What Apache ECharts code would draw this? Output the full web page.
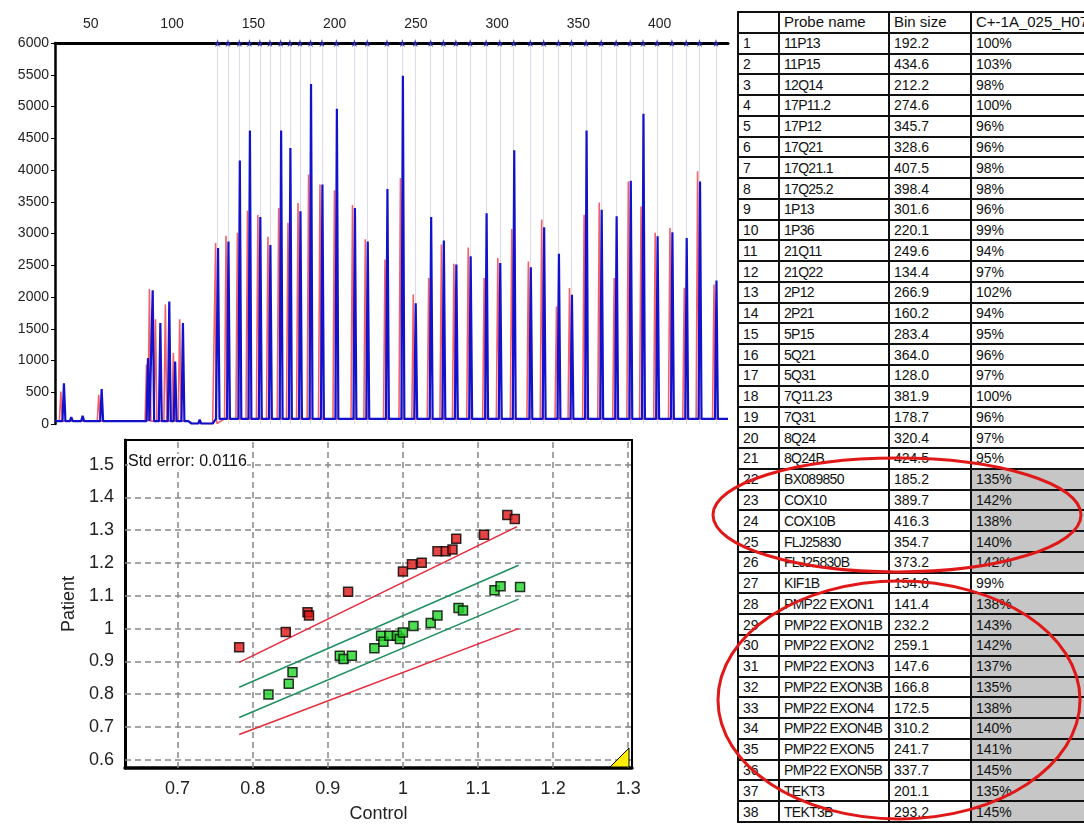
<!DOCTYPE html>
<html>
<head>
<meta charset="utf-8">
<script src="https://cdn.jsdelivr.net/npm/echarts@6/dist/echarts.min.js"></script>
<style>
    html, body { margin: 0; padding: 0; background: #fff; overflow: hidden; }
    #wrap { position: relative; width: 1084px; height: 824px; overflow: hidden; }
    #ct1 { position: absolute; left: 0; top: 0; width: 1084px; height: 824px; z-index: 2; pointer-events: none; }
    #tbl { position: absolute; left: 737px; top: 11px; width: 352px; height: 812px; border-collapse: collapse;
        table-layout: fixed; font-family: "Liberation Sans", Arial, sans-serif; font-size: 14px; color: #111; z-index: 1; }
    #tbl td { border: 2px solid #111; padding: 0 0 0 4px; white-space: nowrap; overflow: hidden; line-height: 16px; }
    #tbl td.nm { letter-spacing: -0.7px; }
    #tbl td.hi { background: #c6c6c6; }
    #tbl tr.hd td { font-size: 15px; }
</style>
</head>
<body>
<div id="wrap">
    <table id="tbl">
        <colgroup><col style="width:41px"><col style="width:110px"><col style="width:82px"><col style="width:119px"></colgroup>
        <tbody id="tbl-body"></tbody>
    </table>
    <div id="ct1"></div>
</div>
<script>
// table columns
var tableHead = ['', 'Probe name', 'Bin size', 'C+-1A_025_H07'];
var probeNames = ['11P13', '11P15', '12Q14', '17P11.2', '17P12', '17Q21', '17Q21.1', '17Q25.2', '1P13', '1P36',
    '21Q11', '21Q22', '2P12', '2P21', '5P15', '5Q21', '5Q31', '7Q11.23', '7Q31', '8Q24', '8Q24B', 'BX089850',
    'COX10', 'COX10B', 'FLJ25830', 'FLJ25830B', 'KIF1B', 'PMP22 EXON1', 'PMP22 EXON1B', 'PMP22 EXON2',
    'PMP22 EXON3', 'PMP22 EXON3B', 'PMP22 EXON4', 'PMP22 EXON4B', 'PMP22 EXON5', 'PMP22 EXON5B', 'TEKT3', 'TEKT3B'];
var binSizes = [192.2, 434.6, 212.2, 274.6, 345.7, 328.6, 407.5, 398.4, 301.6, 220.1, 249.6, 134.4, 266.9, 160.2,
    283.4, 364.0, 128.0, 381.9, 178.7, 320.4, 424.5, 185.2, 389.7, 416.3, 354.7, 373.2, 154.0, 141.4, 232.2, 259.1,
    147.6, 166.8, 172.5, 310.2, 241.7, 337.7, 201.1, 293.2];
var ratios = [100, 103, 98, 100, 96, 96, 98, 98, 96, 99, 94, 97, 102, 94, 95, 96, 97, 100, 96, 97, 95, 135, 142, 138,
    140, 142, 99, 138, 143, 142, 137, 135, 138, 140, 141, 145, 135, 145];

// electropherogram: peak heights per probe, in order of bin size
var peakSizes = binSizes.slice().sort(function (a, b) { return a - b; });
var blueHeights = [2770, 2875, 4150, 4620, 3260, 2820, 4620, 4345, 3350, 5355, 3770, 4965, 3400, 2875, 3700, 5485,
    1900, 3260, 2890, 2510, 2640, 3320, 2535, 4310, 2470, 3100, 2680, 2035, 4620, 3375, 3270, 3830, 4885, 2955,
    3020, 2930, 3820, 2260];
var redHeights = [2850, 2965, 3010, 3360, 3290, 2950, 3400, 3170, 3480, 3930, 3770, 3680, 3450, 2910, 2590, 3875,
    2040, 2300, 2825, 2525, 2780, 2300, 2615, 3070, 2560, 3220, 1850, 2140, 3295, 3490, 2300, 3820, 3425, 3010,
    3085, 2145, 3980, 2195];
var earlyBlue = [[33.5, 640], [38, 110], [45, 130], [56.7, 550], [85.2, 1040], [88.1, 2105], [92.8, 1590],
    [98.3, 1930], [101.9, 985], [106.7, 1590], [117, 70]];
var earlyRed = [[31.6, 513], [54.9, 460], [84.3, 935], [86.1, 2125], [89.8, 1650], [95.9, 1880], [100.8, 1118],
    [104.7, 1650]];
var baseLevels = [[28, 45], [110, 45], [112, 8], [125, 8], [127, 80], [442, 80]];
var topTicks = [50, 100, 150, 200, 250, 300, 350, 400];

// ratio plot
var redPoints = [[0.782, 0.943], [0.844, 0.990], [0.873, 1.050], [0.875, 1.040], [0.927, 1.112], [1.000, 1.174],
    [1.012, 1.196], [1.025, 1.201], [1.046, 1.236], [1.057, 1.236], [1.066, 1.241], [1.071, 1.274], [1.108, 1.286],
    [1.139, 1.346], [1.149, 1.334]];
var greenPoints = [[0.821, 0.799], [0.848, 0.832], [0.853, 0.867], [0.916, 0.917], [0.921, 0.907], [0.932, 0.917],
    [0.962, 0.940], [0.971, 0.978], [0.974, 0.960], [0.982, 0.978], [0.992, 0.978], [0.996, 0.968], [1.000, 0.988],
    [1.014, 1.008], [1.037, 1.017], [1.046, 1.040], [1.074, 1.063], [1.080, 1.055], [1.122, 1.117], [1.130, 1.129],
    [1.156, 1.127]];
var redUpper = [[0.782, 0.897], [1.152, 1.311]];
var redLower = [[0.782, 0.677], [1.154, 1.000]];
var greenUpper = [[0.782, 0.821], [1.154, 1.193]];
var greenLower = [[0.782, 0.729], [1.154, 1.090]];
var gridX = [0.7, 0.8, 0.9, 1.0, 1.1, 1.2, 1.3];
var gridY = [0.6, 0.7, 0.8, 0.9, 1.0, 1.1, 1.2, 1.3, 1.4, 1.5];
var stdErrorText = 'Std error: 0.0116';

function initTable() {
    var html = new Array();
    html.push('<tr class="hd">');
    for (var j = 0; j < tableHead.length; j++) {
        html.push('<td>' + tableHead[j] + '</td>');
    }
    html.push('</tr>');
    for (var i = 0; i < probeNames.length; i++) {
        html.push('<tr>');
        html.push('<td>' + (i + 1) + '</td>');
        html.push('<td class="nm">' + probeNames[i] + '</td>');
        html.push('<td>' + binSizes[i].toFixed(1) + '</td>');
        html.push('<td' + (ratios[i] >= 135 ? ' class="hi"' : '') + '>' + ratios[i] + '%</td>');
        html.push('</tr>');
    }
    document.getElementById('tbl-body').innerHTML = html.join('');
}

function baseAt(x) {
    for (var i = baseLevels.length - 1; i >= 0; i--) {
        if (x >= baseLevels[i][0]) return baseLevels[i][1];
    }
    return baseLevels[0][1];
}

// a trace: the baseline with one narrow spike per peak
function buildTrace(early, heights, shift) {
    var peaks = early.concat(peakSizes.map(function (p, i) { return [p + shift, heights[i]]; }));
    var pts = baseLevels.slice();
    peaks.forEach(function (pk) {
        pts.push([pk[0] - 0.9, baseAt(pk[0])], [pk[0], pk[1]], [pk[0] + 0.9, baseAt(pk[0])]);
    });
    pts.sort(function (a, b) { return a[0] - b[0]; });
    return pts;
}

function tenthLabel(v) {
    var t = Math.round(v * 10);
    return Math.abs(v * 10 - t) < 1e-6 ? String(t / 10) : '';
}

var myChart1 = null;
var option1 = {
    backgroundColor: 'transparent',
    animation: false,
    textStyle: {fontFamily: '"Liberation Sans", Arial, sans-serif'},
    grid: [
        {left: 55, top: 43, width: 673, height: 381},
        {left: 125, top: 440, width: 507, height: 330, show: true, borderColor: '#000', borderWidth: 2}
    ],
    xAxis: [
        {
            gridIndex: 0, type: 'value', position: 'top', min: 28, max: 442, interval: 2,
            axisLine: {show: true, onZero: false, lineStyle: {color: '#000', width: 3}},
            axisTick: {show: false}, splitLine: {show: false},
            axisLabel: {fontSize: 14, color: '#222', margin: 12, formatter: function (v) {
                return topTicks.indexOf(v) >= 0 ? String(v) : '';
            }}
        },
        {
            gridIndex: 1, type: 'value', min: 0.63, max: 1.305, interval: 0.005,
            axisLine: {show: true, onZero: false, lineStyle: {color: '#000', width: 3.5}},
            axisTick: {show: false}, splitLine: {show: false},
            axisLabel: {fontSize: 18, color: '#222', margin: 12, formatter: tenthLabel},
            name: 'Control', nameLocation: 'middle', nameGap: 37,
            nameTextStyle: {fontSize: 18, color: '#222'}
        }
    ],
    yAxis: [
        {
            gridIndex: 0, type: 'value', min: 0, max: 6000, interval: 500,
            axisLine: {show: true, onZero: false, lineStyle: {color: '#000', width: 2.5}},
            axisTick: {show: true, length: 4, lineStyle: {color: '#000'}},
            splitLine: {show: false},
            axisLabel: {fontSize: 14, color: '#222', margin: 6, formatter: function (v) { return String(v); }}
        },
        {
            gridIndex: 1, type: 'value', min: 0.575, max: 1.575, interval: 0.025,
            axisLine: {show: true, onZero: false, lineStyle: {color: '#000', width: 3}},
            axisTick: {show: false}, splitLine: {show: false},
            axisLabel: {fontSize: 18, color: '#222', margin: 11, formatter: tenthLabel},
            name: 'Patient', nameLocation: 'middle', nameGap: 47, nameRotate: 90,
            nameTextStyle: {fontSize: 18, color: '#222'}
        }
    ],
    series: [
        {
            name: 'red trace', type: 'line', xAxisIndex: 0, yAxisIndex: 0, z: 2,
            data: buildTrace(earlyRed, redHeights, -1.2), symbol: 'none',
            lineStyle: {color: '#f2606c', width: 1.6}
        },
        {
            name: 'blue trace', type: 'line', xAxisIndex: 0, yAxisIndex: 0, z: 3,
            data: buildTrace(earlyBlue, blueHeights, 0.3), symbol: 'none',
            lineStyle: {color: '#1212cc', width: 2.2}
        },
        {
            name: 'probes', type: 'scatter', xAxisIndex: 0, yAxisIndex: 0, z: 4, clip: false,
            data: peakSizes.map(function (p) { return [p, 6000]; }),
            symbol: 'path://M50,0 L61,35 L98,35 L68,57 L79,91 L50,70 L21,91 L32,57 L2,35 L39,35 Z',
            symbolSize: 8, itemStyle: {color: '#1c1ca0'},
            markLine: {
                silent: true, z: 1, symbol: ['none', 'none'], label: {show: false},
                lineStyle: {color: '#dcdce8', width: 1, type: 'solid'},
                data: peakSizes.map(function (p) { return {xAxis: p}; })
            }
        },
        {
            name: 'red upper', type: 'line', xAxisIndex: 1, yAxisIndex: 1, z: 3, symbol: 'none',
            data: redUpper, lineStyle: {color: '#e8283a', width: 1.5}
        },
        {
            name: 'red lower', type: 'line', xAxisIndex: 1, yAxisIndex: 1, z: 3, symbol: 'none',
            data: redLower, lineStyle: {color: '#e8283a', width: 1.5}
        },
        {
            name: 'green upper', type: 'line', xAxisIndex: 1, yAxisIndex: 1, z: 3, symbol: 'none',
            data: greenUpper, lineStyle: {color: '#1f8f5f', width: 1.5}
        },
        {
            name: 'green lower', type: 'line', xAxisIndex: 1, yAxisIndex: 1, z: 3, symbol: 'none',
            data: greenLower, lineStyle: {color: '#1f8f5f', width: 1.5}
        },
        {
            name: 'normal', type: 'scatter', xAxisIndex: 1, yAxisIndex: 1, z: 4,
            data: greenPoints, symbol: 'rect', symbolSize: 9,
            itemStyle: {color: '#22d628', borderColor: '#000', borderWidth: 1.5},
            markLine: {
                silent: true, z: 1, symbol: ['none', 'none'], label: {show: false},
                lineStyle: {color: '#888', width: 1.5, type: [6, 4]},
                data: gridX.map(function (v) { return {xAxis: v}; })
                    .concat(gridY.map(function (v) { return {yAxis: v}; }))
            }
        },
        {
            name: 'gain', type: 'scatter', xAxisIndex: 1, yAxisIndex: 1, z: 4,
            data: redPoints, symbol: 'rect', symbolSize: 9,
            itemStyle: {color: '#e01414', borderColor: '#000', borderWidth: 1.5}
        }
    ],
    graphic: [
        {
            type: 'text', left: 128, top: 454, z: 100,
            style: {text: stdErrorText, fontSize: 16, fill: '#111', backgroundColor: '#fff',
                fontFamily: '"Liberation Sans", Arial, sans-serif'}
        },
        {
            type: 'polygon', z: 100,
            shape: {points: [[610, 767], [629, 767], [629, 748]]},
            style: {fill: '#ffee00', stroke: '#000', lineWidth: 1}
        },
        {
            type: 'ellipse', z: 100,
            shape: {cx: 897, cy: 515, rx: 184, ry: 57},
            style: {fill: 'none', stroke: '#e01818', lineWidth: 3}
        },
        {
            type: 'ellipse', z: 100,
            shape: {cx: 899, cy: 700, rx: 181, ry: 119},
            style: {fill: 'none', stroke: '#e01818', lineWidth: 3}
        }
    ]
};

function initMyChar1() {
    if (myChart1 && myChart1.dispose) {
        myChart1.dispose();
    }
    myChart1 = echarts.init(document.getElementById('ct1'));
    myChart1.setOption(option1, true);
}

initTable();
initMyChar1();
</script>
</body>
</html>
